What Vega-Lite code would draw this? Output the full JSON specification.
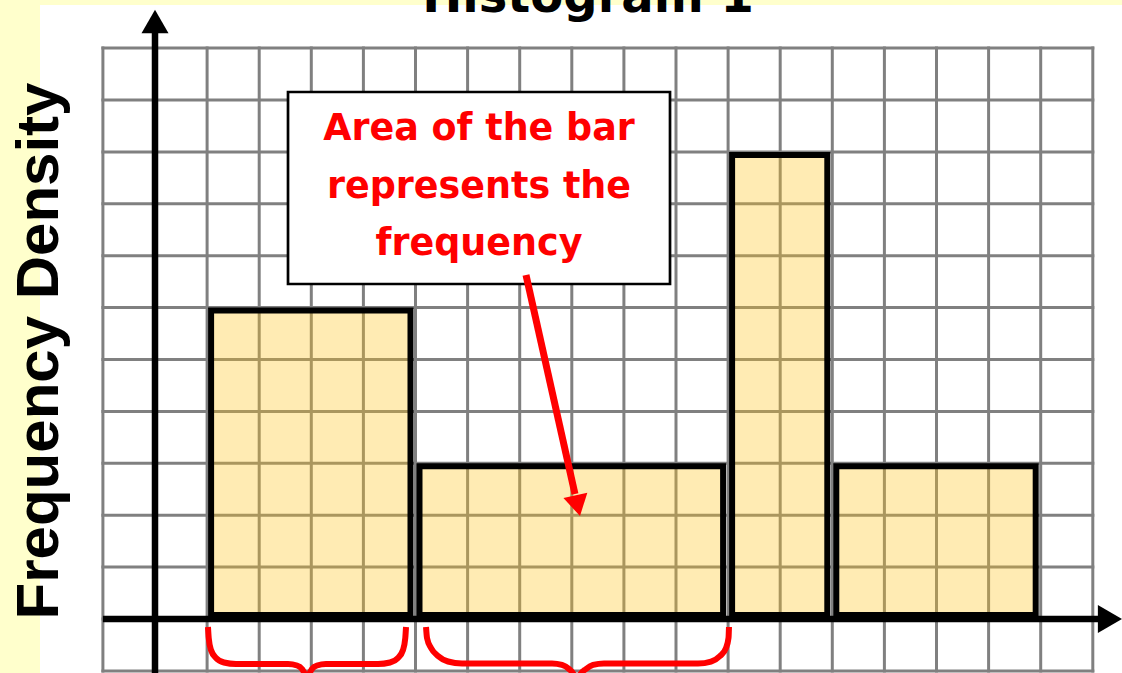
{
  "$schema": "https://vega.github.io/schema/vega-lite/v6.json",
  "width": 1082,
  "height": 668,
  "autosize": {"type": "none"},
  "padding": {"left": 40, "top": 5, "right": 0, "bottom": 0},
  "background": "#FFFFCC",
  "config": {"view": {"fill": "white", "stroke": null}},
  "datasets": {
    "gridV": [
      {"x": -1, "y": -1, "y2": 11}, {"x": 0, "y": -1, "y2": 11}, {"x": 1, "y": -1, "y2": 11},
      {"x": 2, "y": -1, "y2": 11}, {"x": 3, "y": -1, "y2": 11}, {"x": 4, "y": -1, "y2": 11},
      {"x": 5, "y": -1, "y2": 11}, {"x": 6, "y": -1, "y2": 11}, {"x": 7, "y": -1, "y2": 11},
      {"x": 8, "y": -1, "y2": 11}, {"x": 9, "y": -1, "y2": 11}, {"x": 10, "y": -1, "y2": 11},
      {"x": 11, "y": -1, "y2": 11}, {"x": 12, "y": -1, "y2": 11}, {"x": 13, "y": -1, "y2": 11},
      {"x": 14, "y": -1, "y2": 11}, {"x": 15, "y": -1, "y2": 11}, {"x": 16, "y": -1, "y2": 11},
      {"x": 17, "y": -1, "y2": 11}, {"x": 18, "y": -1, "y2": 11}
    ],
    "gridH": [
      {"y": -1, "x": -1, "x2": 18}, {"y": 0, "x": -1, "x2": 18}, {"y": 1, "x": -1, "x2": 18},
      {"y": 2, "x": -1, "x2": 18}, {"y": 3, "x": -1, "x2": 18}, {"y": 4, "x": -1, "x2": 18},
      {"y": 5, "x": -1, "x2": 18}, {"y": 6, "x": -1, "x2": 18}, {"y": 7, "x": -1, "x2": 18},
      {"y": 8, "x": -1, "x2": 18}, {"y": 9, "x": -1, "x2": 18}, {"y": 10, "x": -1, "x2": 18},
      {"y": 11, "x": -1, "x2": 18}
    ],
    "bars": [
      {"x": 1, "x2": 5, "y": 6},
      {"x": 5, "x2": 11, "y": 3},
      {"x": 11, "x2": 13, "y": 9},
      {"x": 13, "x2": 17, "y": 3}
    ],
    "axes": [
      {"x": 0, "y": -1.1, "x2": 0, "y2": 11.29},
      {"x": -1, "y": 0, "x2": 18.14, "y2": 0}
    ],
    "yArrow": [{"x": 0, "y": 11.512}],
    "xArrow": [{"x": 18.33, "y": 0}],
    "box": [{"x": 2.553, "x2": 9.885, "y": 10.154, "y2": 6.455}],
    "note": [
      {"x": 6.219, "y": 9.229, "text": "Area of the bar"},
      {"x": 6.219, "y": 8.112, "text": "represents the"},
      {"x": 6.219, "y": 7.013, "text": "frequency"}
    ],
    "pointer": [{"x": 7.121, "y": 6.628, "x2": 8.061, "y2": 2.408}],
    "pointerHead": [{"x": 8.113, "y": 2.183}],
    "braces": [
      {"brace": "a", "i": 0, "x": 1.017, "y": -0.154},
      {"brace": "a", "i": 1, "x": 1.031, "y": -0.366},
      {"brace": "a", "i": 2, "x": 1.075, "y": -0.597},
      {"brace": "a", "i": 3, "x": 1.171, "y": -0.751},
      {"brace": "a", "i": 4, "x": 1.324, "y": -0.838},
      {"brace": "a", "i": 5, "x": 1.555, "y": -0.867},
      {"brace": "a", "i": 6, "x": 2.553, "y": -0.867},
      {"brace": "a", "i": 7, "x": 2.726, "y": -0.896},
      {"brace": "a", "i": 8, "x": 2.821, "y": -0.963},
      {"brace": "a", "i": 9, "x": 2.879, "y": -1.079},
      {"brace": "a", "i": 10, "x": 2.917, "y": -1.233},
      {"brace": "a", "i": 11, "x": 2.956, "y": -1.079},
      {"brace": "a", "i": 12, "x": 3.013, "y": -0.963},
      {"brace": "a", "i": 13, "x": 3.109, "y": -0.896},
      {"brace": "a", "i": 14, "x": 3.282, "y": -0.867},
      {"brace": "a", "i": 15, "x": 4.28, "y": -0.867},
      {"brace": "a", "i": 16, "x": 4.511, "y": -0.838},
      {"brace": "a", "i": 17, "x": 4.664, "y": -0.751},
      {"brace": "a", "i": 18, "x": 4.76, "y": -0.597},
      {"brace": "a", "i": 19, "x": 4.804, "y": -0.366},
      {"brace": "a", "i": 20, "x": 4.818, "y": -0.154},
      {"brace": "b", "i": 0, "x": 5.202, "y": -0.154},
      {"brace": "b", "i": 1, "x": 5.221, "y": -0.366},
      {"brace": "b", "i": 2, "x": 5.298, "y": -0.559},
      {"brace": "b", "i": 3, "x": 5.432, "y": -0.713},
      {"brace": "b", "i": 4, "x": 5.624, "y": -0.819},
      {"brace": "b", "i": 5, "x": 5.893, "y": -0.857},
      {"brace": "b", "i": 6, "x": 7.62, "y": -0.857},
      {"brace": "b", "i": 7, "x": 7.812, "y": -0.886},
      {"brace": "b", "i": 8, "x": 7.946, "y": -0.963},
      {"brace": "b", "i": 9, "x": 8.042, "y": -1.079},
      {"brace": "b", "i": 10, "x": 8.1, "y": -1.233},
      {"brace": "b", "i": 11, "x": 8.157, "y": -1.079},
      {"brace": "b", "i": 12, "x": 8.273, "y": -0.963},
      {"brace": "b", "i": 13, "x": 8.407, "y": -0.886},
      {"brace": "b", "i": 14, "x": 8.618, "y": -0.857},
      {"brace": "b", "i": 15, "x": 10.422, "y": -0.857},
      {"brace": "b", "i": 16, "x": 10.672, "y": -0.819},
      {"brace": "b", "i": 17, "x": 10.845, "y": -0.713},
      {"brace": "b", "i": 18, "x": 10.96, "y": -0.559},
      {"brace": "b", "i": 19, "x": 11.008, "y": -0.366},
      {"brace": "b", "i": 20, "x": 11.017, "y": -0.154}
    ],
    "title": [{"x": 8.311, "y": 11.696, "text": "Histogram 1"}],
    "ylabel": [{"x": -1.871, "y": 5.164, "text": "Frequency Density"}]
  },
  "encoding": {
    "x": {"field": "x", "type": "quantitative", "scale": {"domain": [-2.2073, 18.5605], "nice": false, "zero": false}, "axis": null},
    "y": {"field": "y", "type": "quantitative", "scale": {"domain": [-1.0405, 11.8304], "nice": false, "zero": false}, "axis": null}
  },
  "layer": [
    {
      "data": {"name": "gridV"},
      "mark": {"type": "rule", "color": "#808080", "strokeWidth": 3, "strokeCap": "square"},
      "encoding": {"y2": {"field": "y2"}}
    },
    {
      "data": {"name": "gridH"},
      "mark": {"type": "rule", "color": "#808080", "strokeWidth": 3, "strokeCap": "square"},
      "encoding": {"x2": {"field": "x2"}}
    },
    {
      "data": {"name": "bars"},
      "mark": {"type": "rect", "fill": "#FFC218", "fillOpacity": 0.33, "stroke": "black", "strokeWidth": 6, "xOffset": 4, "x2Offset": -5, "yOffset": 3, "y2Offset": -4},
      "encoding": {"x2": {"field": "x2"}, "y2": {"datum": 0}}
    },
    {
      "data": {"name": "axes"},
      "mark": {"type": "rule", "color": "black", "strokeWidth": 6.5, "strokeCap": "butt"},
      "encoding": {"x2": {"field": "x2"}, "y2": {"field": "y2"}}
    },
    {
      "data": {"name": "yArrow"},
      "mark": {"type": "point", "shape": "triangle-up", "size": 729, "filled": true, "color": "black", "opacity": 1}
    },
    {
      "data": {"name": "xArrow"},
      "mark": {"type": "point", "shape": "triangle-right", "size": 784, "filled": true, "color": "black", "opacity": 1}
    },
    {
      "data": {"name": "box"},
      "mark": {"type": "rect", "fill": "white", "stroke": "black", "strokeWidth": 2.7},
      "encoding": {"x2": {"field": "x2"}, "y2": {"field": "y2"}}
    },
    {
      "data": {"name": "note"},
      "mark": {"type": "text", "font": "DejaVu Sans", "fontWeight": "bold", "fontSize": 36.5, "color": "#FF0000", "align": "center", "baseline": "alphabetic"},
      "encoding": {"text": {"field": "text"}}
    },
    {
      "data": {"name": "pointer"},
      "mark": {"type": "rule", "color": "#FF0000", "strokeWidth": 7, "strokeCap": "butt"},
      "encoding": {"x2": {"field": "x2"}, "y2": {"field": "y2"}}
    },
    {
      "data": {"name": "pointerHead"},
      "mark": {"type": "point", "shape": "triangle-down", "size": 600, "angle": 347.4, "filled": true, "color": "#FF0000", "opacity": 1}
    },
    {
      "data": {"name": "braces"},
      "mark": {"type": "line", "color": "#FF0000", "strokeWidth": 6, "interpolate": "monotone", "strokeCap": "butt", "strokeJoin": "round"},
      "encoding": {"detail": {"field": "brace"}, "order": {"field": "i", "type": "quantitative"}}
    },
    {
      "data": {"name": "title"},
      "mark": {"type": "text", "font": "DejaVu Sans", "fontWeight": "bold", "fontSize": 48, "color": "black", "align": "center", "baseline": "alphabetic"},
      "encoding": {"text": {"field": "text"}}
    },
    {
      "data": {"name": "ylabel"},
      "mark": {"type": "text", "font": "Liberation Sans", "fontWeight": "bold", "fontSize": 60, "angle": 270, "color": "black", "align": "center", "baseline": "alphabetic"},
      "encoding": {"text": {"field": "text"}}
    }
  ]
}
